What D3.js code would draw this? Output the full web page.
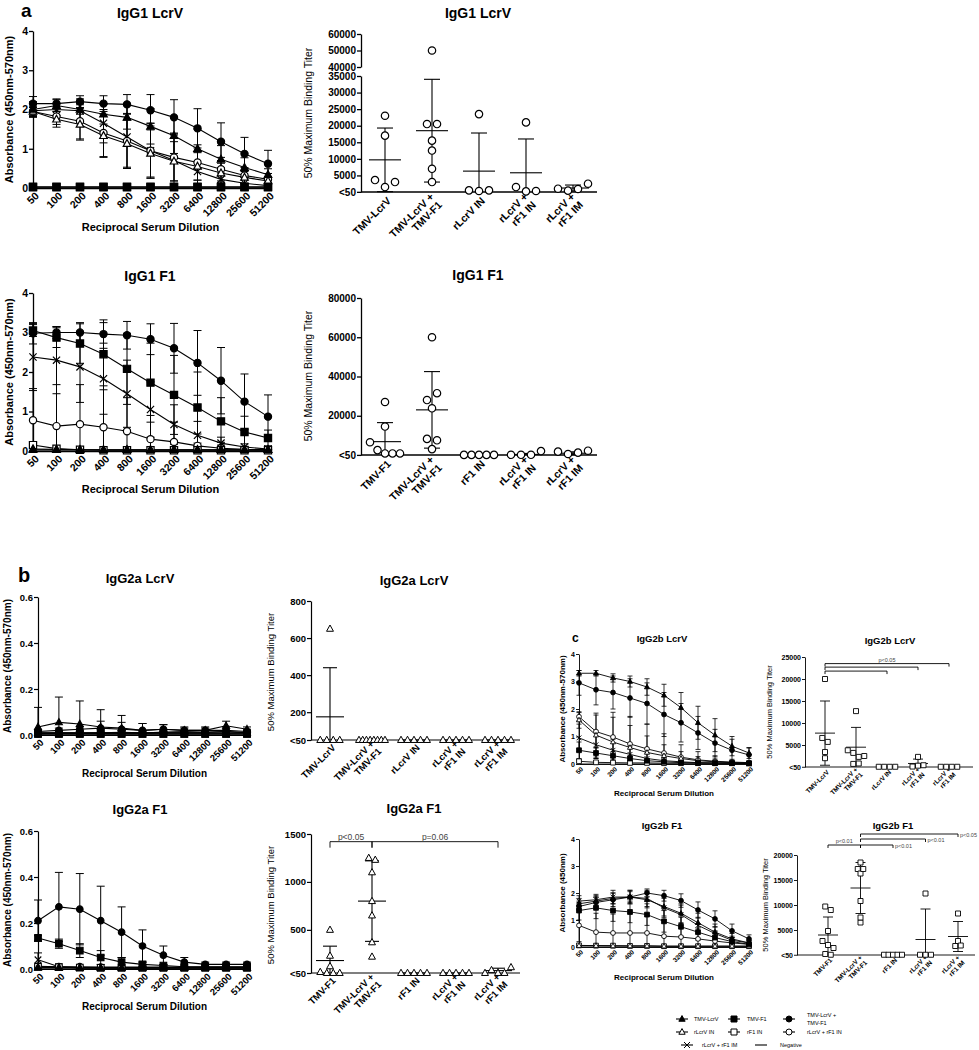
<!DOCTYPE html>
<html>
<head>
<meta charset="utf-8">
<script src="https://cdn.jsdelivr.net/npm/d3@7"></script>
<style>
  body { margin: 0; background: #fff; }
  svg { display: block; }
</style>
</head>
<body>
<svg id="fig" width="979" height="1050"></svg>
<script>
// ---------- data ----------
const dilutions = ["50", "100", "200", "400", "800", "1600", "3200", "6400", "12800", "25600", "51200"];

// order of data sets used in every absorbance chart
const seriesNames = ["TMV-LcrV", "TMV-F1", "TMV-LcrV + TMV-F1", "rLcrV IN", "rF1 IN", "rLcrV + rF1 IN", "rLcrV + rF1 IM", "Negative"];
const seriesShapes = ["triangle", "square", "circle", "triangle", "square", "circle", "times", "none"];
const seriesFilled = [true, true, true, false, false, false, false, false];

const groupsLcrv = [["TMV-LcrV"], ["TMV-LcrV +", "TMV-F1"], ["rLcrV IN"], ["rLcrV +", "rF1 IN"], ["rLcrV +", "rF1 IM"]];
const groupsF1 = [["TMV-F1"], ["TMV-LcrV +", "TMV-F1"], ["rF1 IN"], ["rLcrV +", "rF1 IN"], ["rLcrV +", "rF1 IM"]];

// IgG1 LcrV absorbance (mean, SD)
const igg1LcrvMean = [
  [2.00, 2.10, 2.00, 1.88, 1.80, 1.57, 1.33, 1.00, 0.73, 0.52, 0.34],
  [0.03, 0.03, 0.03, 0.03, 0.03, 0.03, 0.03, 0.03, 0.03, 0.03, 0.03],
  [2.15, 2.15, 2.20, 2.15, 2.13, 1.98, 1.80, 1.52, 1.18, 0.87, 0.62],
  [1.95, 1.75, 1.62, 1.33, 1.13, 0.88, 0.68, 0.55, 0.38, 0.27, 0.18],
  [0.02, 0.02, 0.02, 0.02, 0.02, 0.02, 0.02, 0.02, 0.02, 0.02, 0.02],
  [1.95, 1.82, 1.70, 1.40, 1.20, 0.95, 0.78, 0.65, 0.48, 0.32, 0.22],
  [1.97, 2.00, 1.97, 1.65, 1.30, 0.95, 0.70, 0.42, 0.22, 0.12, 0.06],
  [0, 0, 0, 0, 0, 0, 0, 0, 0, 0, 0]
];
const igg1LcrvSd = [
  [0.20, 0.15, 0.12, 0.25, 0.30, 0.45, 0.45, 0.50, 0.35, 0.25, 0.15],
  [0, 0, 0, 0, 0, 0, 0, 0, 0, 0, 0],
  [0.18, 0.12, 0.15, 0.20, 0.25, 0.40, 0.45, 0.50, 0.48, 0.42, 0.34],
  [0.10, 0.20, 0.40, 0.55, 0.60, 0.60, 0.50, 0.35, 0.25, 0.15, 0.10],
  [0, 0, 0, 0, 0, 0, 0, 0, 0, 0, 0],
  [0.12, 0.20, 0.45, 0.60, 0.70, 0.70, 0.60, 0.45, 0.30, 0.20, 0.15],
  [0.15, 0.15, 0.30, 0.50, 0.80, 0.70, 0.70, 0.50, 0.30, 0.15, 0.08],
  [0, 0, 0, 0, 0, 0, 0, 0, 0, 0, 0]
];

// IgG1 F1 absorbance
const igg1F1Mean = [
  [0.03, 0.03, 0.03, 0.03, 0.03, 0.03, 0.03, 0.03, 0.03, 0.03, 0.03],
  [3.05, 2.87, 2.72, 2.45, 2.08, 1.73, 1.42, 1.10, 0.75, 0.48, 0.33],
  [2.98, 3.00, 3.00, 2.96, 2.93, 2.83, 2.60, 2.23, 1.78, 1.25, 0.87],
  [0.05, 0.04, 0.03, 0.03, 0.03, 0.03, 0.03, 0.03, 0.03, 0.03, 0.03],
  [0.15, 0.06, 0.03, 0.02, 0.02, 0.02, 0.02, 0.02, 0.02, 0.02, 0.02],
  [0.78, 0.63, 0.68, 0.60, 0.50, 0.30, 0.23, 0.13, 0.07, 0.04, 0.03],
  [2.38, 2.30, 2.13, 1.83, 1.45, 1.05, 0.67, 0.40, 0.20, 0.10, 0.05],
  [0, 0, 0, 0, 0, 0, 0, 0, 0, 0, 0]
];
const igg1F1Sd = [
  [0, 0, 0, 0, 0, 0, 0, 0, 0, 0, 0],
  [0.15, 0.25, 0.50, 0.80, 0.90, 1.00, 1.00, 0.90, 0.60, 0.40, 0.20],
  [0.27, 0.15, 0.25, 0.36, 0.35, 0.39, 0.63, 0.82, 0.84, 0.70, 0.55],
  [0, 0, 0, 0, 0, 0, 0, 0, 0, 0, 0],
  [0.05, 0, 0, 0, 0, 0, 0, 0, 0, 0, 0],
  [0.80, 1.05, 1.00, 0.95, 0.85, 0.60, 0.50, 0.30, 0.15, 0.08, 0.05],
  [0.85, 0.85, 0.90, 0.90, 0.85, 0.70, 0.50, 0.35, 0.15, 0.08, 0.05],
  [0, 0, 0, 0, 0, 0, 0, 0, 0, 0, 0]
];

// IgG2a LcrV absorbance
const igg2aLcrvMean = [
  [0.035, 0.055, 0.048, 0.035, 0.030, 0.020, 0.025, 0.020, 0.020, 0.040, 0.025],
  [0.005, 0.005, 0.005, 0.005, 0.005, 0.005, 0.005, 0.005, 0.005, 0.005, 0.005],
  [0.015, 0.020, 0.025, 0.030, 0.025, 0.020, 0.025, 0.020, 0.020, 0.020, 0.015],
  [0.010, 0.008, 0.008, 0.010, 0.010, 0.010, 0.012, 0.012, 0.012, 0.015, 0.010],
  [0.005, 0.005, 0.005, 0.005, 0.005, 0.005, 0.005, 0.005, 0.005, 0.005, 0.005],
  [0.005, 0.010, 0.008, 0.010, 0.012, 0.010, 0.012, 0.015, 0.012, 0.015, 0.010],
  [0.010, 0.010, 0.010, 0.008, 0.008, 0.008, 0.010, 0.010, 0.010, 0.010, 0.010],
  [0, 0, 0, 0, 0, 0, 0, 0, 0, 0, 0]
];
const igg2aLcrvSd = [
  [0.085, 0.110, 0.100, 0.075, 0.055, 0.030, 0.020, 0.015, 0.015, 0.020, 0.010],
  [0, 0, 0, 0, 0, 0, 0, 0, 0, 0, 0],
  [0.010, 0.010, 0.010, 0.030, 0.030, 0.030, 0.020, 0.010, 0.010, 0.010, 0.010],
  [0, 0, 0, 0, 0, 0, 0, 0, 0, 0, 0],
  [0, 0, 0, 0, 0, 0, 0, 0, 0, 0, 0],
  [0, 0, 0, 0, 0, 0, 0, 0, 0, 0, 0],
  [0, 0, 0, 0, 0, 0, 0, 0, 0, 0, 0],
  [0, 0, 0, 0, 0, 0, 0, 0, 0, 0, 0]
];

// IgG2a F1 absorbance
const igg2aF1Mean = [
  [0.005, 0.005, 0.005, 0.005, 0.005, 0.005, 0.005, 0.005, 0.005, 0.005, 0.005],
  [0.135, 0.110, 0.080, 0.050, 0.030, 0.020, 0.015, 0.010, 0.010, 0.010, 0.010],
  [0.210, 0.270, 0.260, 0.210, 0.160, 0.100, 0.060, 0.030, 0.020, 0.020, 0.020],
  [0.008, 0.006, 0.006, 0.005, 0.005, 0.005, 0.005, 0.005, 0.005, 0.005, 0.005],
  [0.010, 0.008, 0.006, 0.005, 0.005, 0.005, 0.005, 0.005, 0.005, 0.005, 0.005],
  [0.012, 0.010, 0.010, 0.008, 0.008, 0.008, 0.008, 0.008, 0.008, 0.008, 0.008],
  [0.040, 0.010, 0.005, 0.005, 0.005, 0.005, 0.005, 0.005, 0.005, 0.005, 0.005],
  [0, 0, 0, 0, 0, 0, 0, 0, 0, 0, 0]
];
const igg2aF1Sd = [
  [0, 0, 0, 0, 0, 0, 0, 0, 0, 0, 0],
  [0.010, 0.020, 0.030, 0.030, 0.020, 0.010, 0.005, 0, 0, 0, 0],
  [0.090, 0.150, 0.155, 0.150, 0.110, 0.070, 0.040, 0.020, 0.010, 0.010, 0.010],
  [0, 0, 0, 0, 0, 0, 0, 0, 0, 0, 0],
  [0, 0, 0, 0, 0, 0, 0, 0, 0, 0, 0],
  [0, 0, 0, 0, 0, 0, 0, 0, 0, 0, 0],
  [0.030, 0, 0, 0, 0, 0, 0, 0, 0, 0, 0],
  [0, 0, 0, 0, 0, 0, 0, 0, 0, 0, 0]
];

// IgG2b LcrV absorbance
const igg2bLcrvMean = [
  [3.30, 3.30, 3.13, 3.00, 2.80, 2.50, 2.05, 1.50, 1.05, 0.65, 0.40],
  [0.50, 0.40, 0.30, 0.20, 0.12, 0.08, 0.05, 0.04, 0.03, 0.03, 0.02],
  [2.95, 2.70, 2.60, 2.40, 2.20, 1.80, 1.50, 1.13, 0.76, 0.50, 0.33],
  [1.60, 1.05, 0.80, 0.60, 0.42, 0.30, 0.20, 0.12, 0.08, 0.05, 0.04],
  [0.10, 0.06, 0.05, 0.04, 0.04, 0.03, 0.03, 0.03, 0.03, 0.03, 0.03],
  [1.72, 1.18, 0.98, 0.73, 0.55, 0.40, 0.25, 0.15, 0.10, 0.07, 0.05],
  [0.95, 0.70, 0.50, 0.35, 0.20, 0.12, 0.08, 0.05, 0.04, 0.03, 0.02],
  [0, 0, 0, 0, 0, 0, 0, 0, 0, 0, 0]
];
const igg2bLcrvSd = [
  [0.10, 0.10, 0.15, 0.20, 0.30, 0.40, 0.55, 0.60, 0.60, 0.35, 0.20],
  [0.30, 0.20, 0.15, 0.10, 0.05, 0, 0, 0, 0, 0, 0],
  [0.45, 0.55, 0.60, 0.70, 0.75, 0.80, 0.70, 0.60, 0.50, 0.40, 0.25],
  [0.30, 0.80, 0.90, 0.80, 0.60, 0.40, 0.25, 0.15, 0.10, 0.05, 0.03],
  [0.05, 0, 0, 0, 0, 0, 0, 0, 0, 0, 0],
  [0.15, 0.60, 0.90, 1.00, 0.90, 0.70, 0.45, 0.30, 0.20, 0.10, 0.05],
  [0.50, 0.50, 0.40, 0.30, 0.20, 0.10, 0.05, 0, 0, 0, 0],
  [0, 0, 0, 0, 0, 0, 0, 0, 0, 0, 0]
];

// IgG2b F1 absorbance
const igg2bF1Mean = [
  [1.60, 1.70, 1.80, 1.85, 1.75, 1.50, 1.25, 0.90, 0.55, 0.30, 0.15],
  [1.35, 1.45, 1.35, 1.30, 1.20, 0.95, 0.75, 0.55, 0.35, 0.20, 0.10],
  [1.50, 1.65, 1.75, 1.85, 2.00, 1.90, 1.72, 1.37, 1.04, 0.60, 0.30],
  [0.05, 0.05, 0.04, 0.04, 0.04, 0.03, 0.03, 0.03, 0.03, 0.03, 0.03],
  [0.06, 0.05, 0.05, 0.04, 0.04, 0.03, 0.03, 0.03, 0.03, 0.03, 0.03],
  [0.80, 0.55, 0.52, 0.52, 0.52, 0.40, 0.37, 0.30, 0.22, 0.15, 0.10],
  [1.70, 1.75, 1.85, 1.85, 1.80, 1.45, 1.20, 0.80, 0.50, 0.25, 0.15],
  [0, 0, 0, 0, 0, 0, 0, 0, 0, 0, 0]
];
const igg2bF1Sd = [
  [0.20, 0.20, 0.20, 0.25, 0.30, 0.35, 0.35, 0.35, 0.30, 0.20, 0.10],
  [0.35, 0.40, 0.40, 0.40, 0.40, 0.40, 0.35, 0.30, 0.25, 0.15, 0.08],
  [0.15, 0.20, 0.25, 0.20, 0.15, 0.20, 0.25, 0.30, 0.30, 0.25, 0.15],
  [0, 0, 0, 0, 0, 0, 0, 0, 0, 0, 0],
  [0, 0, 0, 0, 0, 0, 0, 0, 0, 0, 0],
  [0.60, 0.70, 0.70, 0.70, 0.70, 0.60, 0.50, 0.40, 0.30, 0.20, 0.10],
  [0.20, 0.20, 0.25, 0.25, 0.30, 0.35, 0.35, 0.30, 0.25, 0.15, 0.10],
  [0, 0, 0, 0, 0, 0, 0, 0, 0, 0, 0]
];

// 50% maximum binding titers, one list per group
const igg1LcrvTiter = [
  [23000, 17000, 3600, 1500, 3000],
  [50000, 20500, 20500, 15500, 12500, 7000, 3000],
  [23500, 500, 300, 500],
  [21000, 1500, 200, 300],
  [1000, 400, 900, 2500]
];
const igg1LcrvTiterMean = [9700, 18500, 6300, 5800, 1200];
const igg1LcrvTiterSd = [9600, 15500, 11500, 10200, 900];

const igg1F1Titer = [
  [27000, 14500, 6500, 2500, 800, 800, 800],
  [60000, 28000, 31500, 23800, 8200, 7500, 3000],
  [50, 50, 50, 50, 50],
  [100, 100, 100, 2000],
  [1700, 500, 1200, 2200]
];
const igg1F1TiterMean = [6800, 23000, 50, 300, 900];
const igg1F1TiterSd = [9700, 19500, 0, 500, 700];

const igg2aLcrvTiter = [
  [50, 50, 650, 50, 50],
  [50, 50, 50, 50, 50, 50, 50, 50],
  [50, 50, 50, 50, 50],
  [50, 50, 50, 50, 50],
  [50, 50, 50, 50, 50]
];
const igg2aLcrvTiterMean = [175, 50, 50, 50, 50];
const igg2aLcrvTiterSd = [265, 0, 0, 0, 0];

const igg2aF1Titer = [
  [500, 230, 120, 60, 50, 50, 50],
  [1250, 1230, 1100, 800, 650, 370, 220],
  [50, 50, 50, 50, 50],
  [50, 50, 50, 50, 50],
  [50, 80, 50, 50, 110]
];
const igg2aF1TiterMean = [180, 800, 50, 50, 75];
const igg2aF1TiterSd = [150, 420, 0, 0, 25];

const igg2bLcrvTiter = [
  [20000, 6600, 5700, 3400, 2000],
  [12700, 3800, 3200, 2300, 2500, 700, 800],
  [50, 50, 50, 50],
  [100, 300, 400, 2300],
  [50, 50, 50, 50]
];
const igg2bLcrvTiterMean = [7700, 4500, 50, 800, 50];
const igg2bLcrvTiterSd = [7300, 4500, 0, 1000, 0];

const igg2bF1Titer = [
  [9700, 9000, 4800, 2800, 2000, 1400, 200, 50],
  [18500, 17200, 16300, 17200, 10800, 6500, 7500],
  [50, 50, 50, 50, 50],
  [12300, 50, 50, 50],
  [8300, 2800, 1800, 1900]
];
const igg2bF1TiterMean = [4000, 13400, 50, 3100, 3700];
const igg2bF1TiterSd = [3600, 5100, 0, 6100, 3000];

// significance brackets: [from group, to group, height (titer), label]
const igg2aF1Brackets = [[0, 1, 1420, "p<0.05"], [1, 4, 1420, "p=0.06"]];
const igg2bLcrvBrackets = [[0, 2, 21800, ""], [0, 3, 22700, ""], [0, 4, 23500, "p<0.05"]];
const igg2bF1Brackets = [[0, 1, 22000, "p<0.01"], [1, 2, 22000, "p<0.01"], [1, 3, 23200, "p<0.01"], [1, 4, 24200, "p<0.05"]];

// ---------- drawing ----------
const FONT = "'Liberation Sans', Arial, Helvetica, sans-serif";
const svg = d3.select("#fig").attr("font-family", FONT);
svg.append("rect").attr("width", 979).attr("height", 1050).attr("fill", "#fff");

function symbolPath(shape, r) {
  if (shape === "circle") return d3.symbol(d3.symbolCircle, Math.PI * r * r)();
  if (shape === "square") return `M${-r},${-r}H${r}V${r}H${-r}Z`;
  if (shape === "triangle") return `M0,${-r * 1.15}L${r * 1.05},${r * 0.75}L${-r * 1.05},${r * 0.75}Z`;
  if (shape === "times") return `M${-r},${-r}L${r},${r}M${-r},${r}L${r},${-r}`;
  return "";
}

function marker(g, shape, filled, cx, cy, r, sw) {
  if (shape === "none") return;
  g.append("path")
    .attr("d", symbolPath(shape, r))
    .attr("transform", `translate(${cx},${cy})`)
    .attr("fill", shape === "times" ? "none" : (filled ? "#000" : "#fff"))
    .attr("stroke", "#000")
    .attr("stroke-width", sw);
}

function text(g, x, y, str, size, opts = {}) {
  const t = g.append("text")
    .attr("x", x).attr("y", y)
    .attr("font-size", size)
    .attr("font-weight", opts.weight || "bold")
    .attr("text-anchor", opts.anchor || "middle")
    .attr("fill", opts.fill || "#000")
    .text(str);
  if (opts.rotate) t.attr("transform", `rotate(${opts.rotate},${x},${y})`);
  return t;
}

function rotatedLabels(g, items, fs, dx, dy) {
  items.forEach(it => {
    const t = g.append("text")
      .attr("transform", `translate(${it.x + dx},${it.y + dy}) rotate(-45)`)
      .attr("text-anchor", "end")
      .attr("font-size", fs)
      .attr("font-weight", "bold");
    const n = it.lines.length;
    it.lines.forEach((ln, i) => {
      t.append("tspan").attr("x", 0).attr("dy", i === 0 ? `${0.35 - (n - 1) * 0.55}em` : "1.1em").text(ln);
    });
  });
}

function lineChart(c) {
  const g = svg.append("g");
  const x = d3.scalePoint().domain(dilutions).range([c.x0, c.x1]);
  const y = d3.scaleLinear().domain([0, c.yMax]).range([c.y0, c.y1]);

  const yAx = g.append("g")
    .attr("transform", `translate(${c.x0},0)`)
    .call(d3.axisLeft(y).tickValues(c.yTicks).tickFormat(c.fmt).tickSizeInner(c.tick).tickSizeOuter(0).tickPadding(1));
  yAx.attr("font-family", FONT).attr("font-size", c.fs).attr("font-weight", "bold");
  yAx.selectAll("path, line").attr("stroke", "#000").attr("stroke-width", c.aw);
  yAx.selectAll("text").attr("fill", "#000");

  const xAx = g.append("g")
    .attr("transform", `translate(0,${c.y0})`)
    .call(d3.axisBottom(x).tickSize(0).tickSizeOuter(0).tickFormat(""));
  xAx.selectAll("path").attr("stroke", "#000").attr("stroke-width", c.aw);
  rotatedLabels(g, dilutions.map(d => ({ x: x(d), y: c.y0, lines: [d] })), c.xfs, c.ldx, c.ldy);

  const line = d3.line().x((d, i) => x(dilutions[i])).y(d => y(d));

  // error bars
  c.means.forEach((m, s) => {
    m.forEach((v, i) => {
      const e = c.sds[s][i];
      if (!e) return;
      const xx = x(dilutions[i]);
      const lo = Math.max(v - e, 0), hi = Math.min(v + e, c.yMax);
      g.append("line").attr("x1", xx).attr("x2", xx).attr("y1", y(lo)).attr("y2", y(hi))
        .attr("stroke", "#000").attr("stroke-width", c.ew);
      [hi, lo].forEach((b, k) => {
        if (k === 1 && lo <= 0) return;
        g.append("line").attr("x1", xx - c.cap).attr("x2", xx + c.cap).attr("y1", y(b)).attr("y2", y(b))
          .attr("stroke", "#000").attr("stroke-width", c.ew);
      });
    });
  });

  // lines, then markers (first data sets end up on top)
  c.means.forEach(m => {
    g.append("path").attr("d", line(m)).attr("fill", "none").attr("stroke", "#000").attr("stroke-width", c.lw);
  });
  c.means.map((m, s) => s).reverse().forEach(s => {
    c.means[s].forEach((v, i) => marker(g, seriesShapes[s], seriesFilled[s], x(dilutions[i]), y(v), c.r, c.ms));
  });

  text(g, c.tx, c.ty, c.title, c.tfs);
  text(g, (c.x0 + c.x1) / 2 + c.xtdx, c.xty, "Reciprocal Serum Dilution", c.afs);
  text(g, c.ylx, (c.y0 + c.y1) / 2, c.ylabel, c.afs, { rotate: -90 });
  if (c.letter) text(g, c.letter[0], c.letter[1], c.letter[2], c.letter[3], { anchor: "start" });
}

// place points of one group side by side when they overlap
function swarm(vals, y, d, maxW) {
  const idx = vals.map((v, i) => i).sort((a, b) => y(vals[b]) - y(vals[a]));
  const off = new Array(vals.length).fill(0);
  let cluster = [idx[0]];
  const flush = () => {
    const members = cluster.slice().sort((a, b) => a - b);
    const k = members.length;
    const step = k > 1 ? Math.min(d, maxW / (k - 1)) : 0;
    members.forEach((m, j) => { off[m] = (j - (k - 1) / 2) * step; });
  };
  for (let j = 1; j < idx.length; j++) {
    const prev = idx[j - 1], cur = idx[j];
    if (Math.abs(y(vals[cur]) - y(vals[prev])) < d * 0.8) cluster.push(cur);
    else { flush(); cluster = [cur]; }
  }
  flush();
  return off;
}

function titerChart(c) {
  const g = svg.append("g");
  const x = d3.scalePoint().domain(d3.range(c.groups.length)).range([c.g0, c.g1]);
  const segs = c.segments.map(s => ({ ...s, scale: d3.scaleLinear().domain(s.domain).range(s.range) }));
  const y = v => {
    const s = segs.find(s => v <= s.domain[1]) || segs[segs.length - 1];
    return s.scale(Math.max(v, s.domain[0]));
  };
  const yMin = segs[0].domain[0];
  const base = y(yMin);

  segs.forEach(s => {
    const a = g.append("g")
      .attr("transform", `translate(${c.ax},0)`)
      .call(d3.axisLeft(s.scale).tickValues(s.ticks).tickFormat(v => v === 50 ? "<50" : String(v))
        .tickSizeInner(c.tick).tickSizeOuter(0).tickPadding(1));
    a.attr("font-family", FONT).attr("font-size", c.fs).attr("font-weight", "bold");
    a.selectAll("path, line").attr("stroke", "#000").attr("stroke-width", c.aw);
    a.selectAll("text").attr("fill", "#000");
  });
  g.append("line").attr("x1", c.ax).attr("x2", c.xEnd).attr("y1", base).attr("y2", base)
    .attr("stroke", "#000").attr("stroke-width", c.aw);

  rotatedLabels(g, c.groups.map((lines, i) => ({ x: x(i), y: base, lines })), c.xfs, c.ldx, c.ldy);

  c.points.forEach((vals, gi) => {
    const cx = x(gi);
    const m = c.mean[gi], e = c.sd[gi];
    const hi = m + e, lo = Math.max(m - e, yMin);
    if (e > 0) {
      g.append("line").attr("x1", cx).attr("x2", cx).attr("y1", y(lo)).attr("y2", y(hi))
        .attr("stroke", "#000").attr("stroke-width", c.ew);
      g.append("line").attr("x1", cx - c.cap).attr("x2", cx + c.cap).attr("y1", y(hi)).attr("y2", y(hi))
        .attr("stroke", "#000").attr("stroke-width", c.ew);
      if (lo > yMin) g.append("line").attr("x1", cx - c.cap).attr("x2", cx + c.cap).attr("y1", y(lo)).attr("y2", y(lo))
        .attr("stroke", "#000").attr("stroke-width", c.ew);
    }
    g.append("line").attr("x1", cx - c.mw).attr("x2", cx + c.mw).attr("y1", y(m)).attr("y2", y(m))
      .attr("stroke", "#000").attr("stroke-width", c.ew);
    const off = swarm(vals, y, c.d, c.maxW);
    vals.forEach((v, i) => marker(g, c.shape, false, cx + off[i], y(v), c.r, c.ms));
  });

  if (c.brackets) {
    c.brackets.forEach(([a, b, h, lab]) => {
      const by = y(h), xa = x(a), xb = x(b);
      g.append("path").attr("d", `M${xa},${by + c.bt}V${by}H${xb}V${by + c.bt}`)
        .attr("fill", "none").attr("stroke", "#000").attr("stroke-width", 0.9);
      if (!lab) return;
      if (c.bracketLabel === "end" && a !== 0) {
        text(g, xb + 2, by + 2.5, lab, c.bfs, { weight: "normal", anchor: "start", fill: "#444" });
      } else {
        text(g, (xa + xb) / 2, by - 2, lab, c.bfs, { weight: "normal", fill: "#444" });
      }
    });
  }

  text(g, c.tx, c.ty, c.title, c.tfs);
  text(g, c.ylx, c.yly, "50% Maximum Binding Titer", c.afs, { rotate: -90, weight: "normal" });
}

// ---------- panel a ----------
const aLine = { yMax: 4, yTicks: [0, 1, 2, 3, 4], fmt: d3.format("d"), tick: 4, fs: 10.5, xfs: 10.5, aw: 1.3,
  ldx: 4, ldy: 6, ew: 1, cap: 4, lw: 1.1, r: 3.6, ms: 1.2, tfs: 14, afs: 11, x0: 33, x1: 268, xtdx: 0, ylx: 13 };
lineChart({ ...aLine, y0: 188, y1: 31, means: igg1LcrvMean, sds: igg1LcrvSd, title: "IgG1 LcrV", tx: 150, ty: 18,
  xty: 231, ylabel: "Absorbance (450nm-570nm)", letter: [21, 17, "a", 19] });
lineChart({ ...aLine, y0: 451, y1: 293, means: igg1F1Mean, sds: igg1F1Sd, title: "IgG1 F1", tx: 150, ty: 281,
  xty: 493, ylabel: "Absorbance (450nm-570nm)" });

const aTiter = { groups: groupsLcrv, ax: 361, g0: 385, g1: 573, xEnd: 597, tick: 4, fs: 10, xfs: 10.5, aw: 1.3,
  ldx: 4, ldy: 7, ew: 1.1, cap: 8, mw: 16, r: 3.7, ms: 1.2, d: 10, maxW: 30, shape: "circle", tfs: 14, afs: 10.5, ylx: 312 };
titerChart({ ...aTiter, segments: [
    { domain: [0, 35000], range: [192, 76], ticks: [50, 5000, 10000, 15000, 20000, 25000, 30000, 35000] },
    { domain: [40000, 60000], range: [67, 34], ticks: [40000, 50000, 60000] }],
  points: igg1LcrvTiter, mean: igg1LcrvTiterMean, sd: igg1LcrvTiterSd, title: "IgG1 LcrV", tx: 478, ty: 18, yly: 113 });
titerChart({ ...aTiter, groups: groupsF1, segments: [
    { domain: [0, 80000], range: [455, 298], ticks: [50, 20000, 40000, 60000, 80000] }],
  points: igg1F1Titer, mean: igg1F1TiterMean, sd: igg1F1TiterSd, title: "IgG1 F1", tx: 478, ty: 280, yly: 376 });

// ---------- panel b ----------
const bLine = { yMax: 0.6, yTicks: [0, 0.2, 0.4, 0.6], fmt: d3.format(".1f"), tick: 4, fs: 9.5, xfs: 9.5, aw: 1.2,
  ldx: 4, ldy: 6, ew: 1, cap: 4, lw: 1.1, r: 3.3, ms: 1.1, tfs: 13, afs: 10, x0: 38, x1: 247, xtdx: 2, ylx: 11 };
lineChart({ ...bLine, y0: 735, y1: 597, means: igg2aLcrvMean, sds: igg2aLcrvSd, title: "IgG2a LcrV", tx: 140, ty: 583,
  xty: 777, ylabel: "Absorbance (450nm-570nm)", letter: [18, 582, "b", 20] });
lineChart({ ...bLine, y0: 969, y1: 831, means: igg2aF1Mean, sds: igg2aF1Sd, title: "IgG2a F1", tx: 140, ty: 814,
  xty: 1010, ylabel: "Absorbance (450nm-570nm)" });

const bTiter = { ax: 311, g0: 330, g1: 498, xEnd: 520, tick: 4, fs: 9.5, xfs: 9.5, aw: 1.2,
  ldx: 4, ldy: 6, ew: 1.1, cap: 7, mw: 14, r: 3.3, ms: 1, d: 6.5, maxW: 26, shape: "triangle", tfs: 13, afs: 9.5,
  ylx: 274, bt: 6, bfs: 8.5, bracketLabel: "mid" };
titerChart({ ...bTiter, groups: groupsLcrv, segments: [{ domain: [50, 800], range: [740, 601], ticks: [50, 200, 400, 600, 800] }],
  points: igg2aLcrvTiter, mean: igg2aLcrvTiterMean, sd: igg2aLcrvTiterSd, title: "IgG2a LcrV", tx: 414, ty: 585, yly: 672 });
titerChart({ ...bTiter, groups: groupsF1, segments: [{ domain: [50, 1500], range: [973, 834], ticks: [50, 500, 1000, 1500] }],
  points: igg2aF1Titer, mean: igg2aF1TiterMean, sd: igg2aF1TiterSd, brackets: igg2aF1Brackets,
  title: "IgG2a F1", tx: 414, ty: 813, yly: 905 });

// ---------- panel c ----------
const cLine = { yMax: 4, yTicks: [0, 1, 2, 3, 4], fmt: d3.format("d"), tick: 3, fs: 7, xfs: 6.5, aw: 0.9,
  ldx: 3, ldy: 4, ew: 0.8, cap: 2.5, lw: 0.9, r: 2.4, ms: 0.9, tfs: 9.5, afs: 8, x0: 579, x1: 749, xtdx: 0, ylx: 565 };
lineChart({ ...cLine, y0: 764, y1: 654, means: igg2bLcrvMean, sds: igg2bLcrvSd, title: "IgG2b LcrV", tx: 662, ty: 642,
  xty: 796, ylabel: "Absorbance (450nm-570nm)", letter: [572, 642, "c", 12] });
lineChart({ ...cLine, y0: 947, y1: 839, means: igg2bF1Mean, sds: igg2bF1Sd, title: "IgG2b F1", tx: 662, ty: 829,
  xty: 980, ylabel: "Absorbance (450nm)" });

const cTiter = { tick: 3, fs: 7, xfs: 6.5, aw: 0.9, ldx: 3, ldy: 4, ew: 0.9, cap: 5, mw: 10, r: 2.5, ms: 0.9,
  d: 5.5, maxW: 18, shape: "square", tfs: 9.5, afs: 7.5, bt: 3, bfs: 5.5 };
titerChart({ ...cTiter, groups: groupsLcrv, ax: 805, g0: 825, g1: 949, xEnd: 973,
  segments: [{ domain: [0, 25000], range: [767, 657], ticks: [50, 5000, 10000, 15000, 20000, 25000] }],
  points: igg2bLcrvTiter, mean: igg2bLcrvTiterMean, sd: igg2bLcrvTiterSd, brackets: igg2bLcrvBrackets, bracketLabel: "mid",
  title: "IgG2b LcrV", tx: 890, ty: 644, ylx: 772, yly: 712 });
titerChart({ ...cTiter, groups: groupsF1, ax: 797, g0: 828, g1: 958, xEnd: 975,
  segments: [{ domain: [0, 20000], range: [955, 855], ticks: [50, 5000, 10000, 15000, 20000] }],
  points: igg2bF1Titer, mean: igg2bF1TiterMean, sd: igg2bF1TiterSd, brackets: igg2bF1Brackets, bracketLabel: "end",
  title: "IgG2b F1", tx: 893, ty: 829, ylx: 768, yly: 905 });

// ---------- legend ----------
const legend = svg.append("g");
const legendSlots = [[682, 1019], [734, 1019], [789, 1019], [682, 1032], [734, 1032], [789, 1032], [687, 1045], [761, 1045]];
const legendTextDx = [12, 13, 18, 12, 13, 18, 15, 19];
seriesNames.forEach((name, s) => {
  const [lx, ly] = legendSlots[s];
  legend.append("line").attr("x1", lx - 6).attr("x2", lx + 6).attr("y1", ly).attr("y2", ly)
    .attr("stroke", "#000").attr("stroke-width", 1.1);
  marker(legend, seriesShapes[s], seriesFilled[s], lx, ly, 3, 1);
  const tx = lx + legendTextDx[s];
  if (s === 2) {
    text(legend, tx, ly - 2.5, "TMV-LcrV +", 5.5, { weight: "normal", anchor: "start" });
    text(legend, tx, ly + 6, "TMV-F1", 5.5, { weight: "normal", anchor: "start" });
  } else {
    text(legend, tx, ly + 2, name, 5.5, { weight: "normal", anchor: "start" });
  }
});
</script>
</body>
</html>
